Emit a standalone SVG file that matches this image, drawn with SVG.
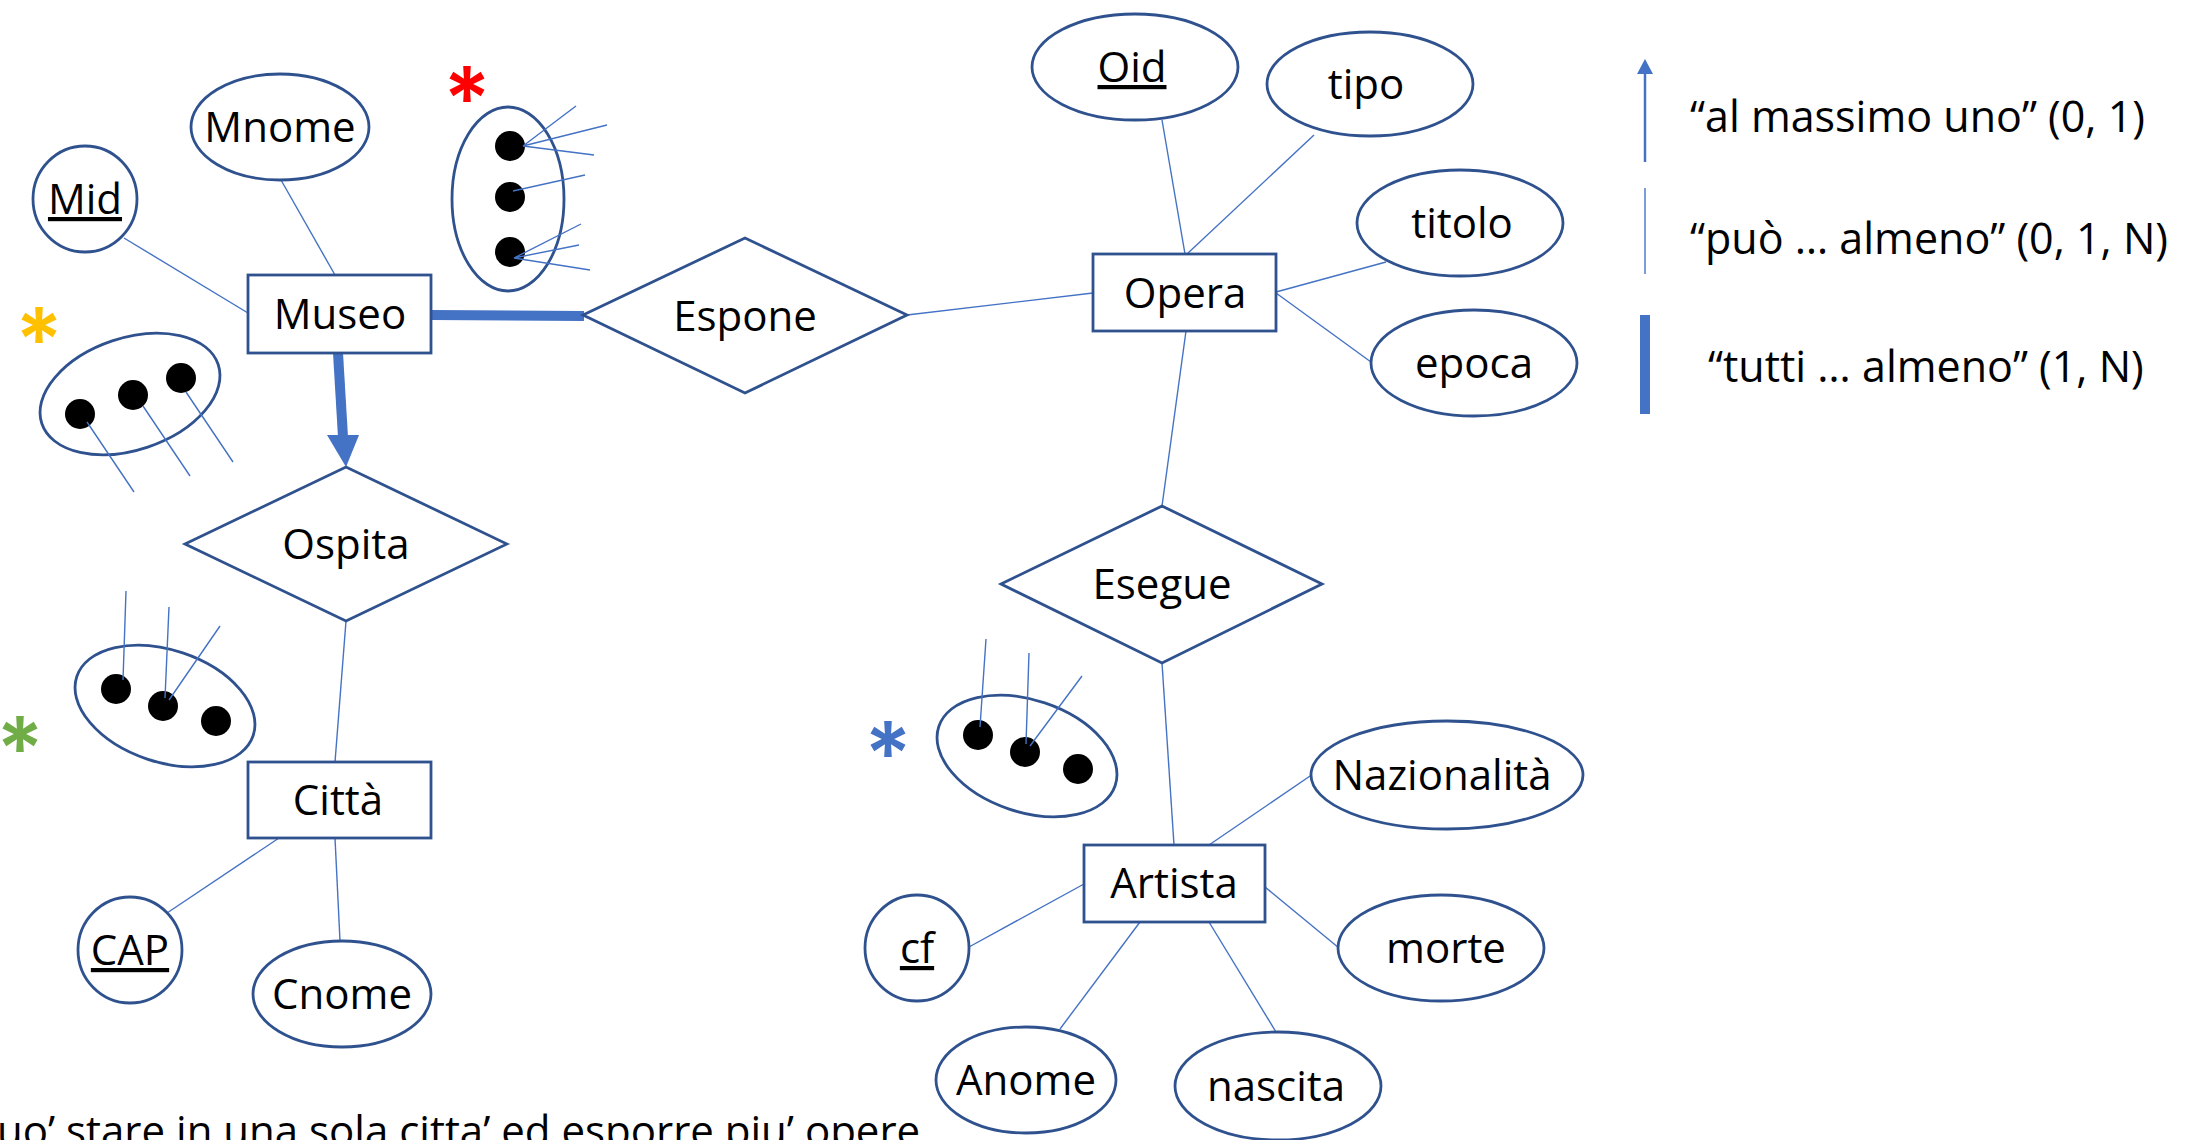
<svg xmlns="http://www.w3.org/2000/svg" width="2187" height="1140" viewBox="0 0 2187 1140">
<style>
.shape{fill:#fff;stroke:#2F528F;stroke-width:2.8}
.lbl{font-family:"Open Sans","Liberation Sans",sans-serif;font-size:42px;fill:#000;text-anchor:middle}
.key{text-decoration:underline}
.ln{stroke:#4472C4;stroke-width:1.4;fill:none}
.thick{stroke:#4472C4;stroke-width:10;fill:none}
.dot{fill:#000}
.star{font-family:Inter,"Open Sans",sans-serif;font-size:88px;font-weight:600;text-anchor:middle}
.leg{font-family:"Open Sans","Liberation Sans",sans-serif;font-size:43px;fill:#000}
</style>
<rect width="2187" height="1140" fill="#fff"/>

<g id="connectors">
<line class="ln" x1="124" y1="238" x2="248" y2="313"/>
<line class="ln" x1="281" y1="180" x2="335" y2="275"/>
<line class="ln" x1="907" y1="315" x2="1093" y2="293"/>
<line class="ln" x1="1162" y1="120" x2="1185" y2="254"/>
<line class="ln" x1="1314" y1="135" x2="1187" y2="254"/>
<line class="ln" x1="1386" y1="262" x2="1276" y2="292"/>
<line class="ln" x1="1371" y1="362" x2="1276" y2="293"/>
<line class="ln" x1="1186" y1="331" x2="1162" y2="506"/>
<line class="ln" x1="1162" y1="663" x2="1174" y2="845"/>
<line class="ln" x1="346" y1="621" x2="335" y2="762"/>
<line class="ln" x1="279" y1="838" x2="167" y2="913"/>
<line class="ln" x1="335" y1="838" x2="340" y2="941"/>
<line class="ln" x1="1209" y1="845" x2="1313" y2="774"/>
<line class="ln" x1="1265" y1="887" x2="1339" y2="948"/>
<line class="ln" x1="1084" y1="884" x2="969" y2="947"/>
<line class="ln" x1="1140" y1="922" x2="1060" y2="1029"/>
<line class="ln" x1="1209" y1="922" x2="1276" y2="1032"/>
<line class="thick" x1="431" y1="315" x2="584" y2="316"/>
<line class="thick" x1="338" y1="353" x2="343" y2="437"/>
<polygon points="327,435 359,435 346,467" fill="#4472C4"/>
</g>

<g id="Museo"><rect class="shape" x="248" y="275" width="183" height="78"/><text class="lbl" x="340" y="329">Museo</text></g>
<g id="Espone"><polygon class="shape" points="583,315 745,238 907,315 745,393"/><text class="lbl" x="745" y="331">Espone</text></g>
<g id="Ospita"><polygon class="shape" points="185,544 346,467 507,544 346,621"/><text class="lbl" x="346" y="559">Ospita</text></g>
<g id="Opera"><rect class="shape" x="1093" y="254" width="183" height="77"/><text class="lbl" x="1185" y="308">Opera</text></g>
<g id="Esegue"><polygon class="shape" points="1001,584 1162,506 1322,584 1162,663"/><text class="lbl" x="1162" y="599">Esegue</text></g>
<g id="Citta"><rect class="shape" x="248" y="762" width="183" height="76"/><text class="lbl" x="338" y="815">Città</text></g>
<g id="Artista"><rect class="shape" x="1084" y="845" width="181" height="77"/><text class="lbl" x="1174" y="898">Artista</text></g>

<g id="Mid"><ellipse class="shape" cx="85" cy="199" rx="52" ry="53"/><text class="lbl key" x="85" y="214">Mid</text></g>
<g id="Mnome"><ellipse class="shape" cx="280" cy="127" rx="89" ry="53"/><text class="lbl" x="280" y="142">Mnome</text></g>
<g id="Oid"><ellipse class="shape" cx="1135" cy="67" rx="103" ry="53"/><text class="lbl key" x="1132" y="82">Oid</text></g>
<g id="tipo"><ellipse class="shape" cx="1370" cy="84" rx="103" ry="52"/><text class="lbl" x="1366" y="99">tipo</text></g>
<g id="titolo"><ellipse class="shape" cx="1460" cy="223" rx="103" ry="53"/><text class="lbl" x="1462" y="238">titolo</text></g>
<g id="epoca"><ellipse class="shape" cx="1474" cy="363" rx="103" ry="53"/><text class="lbl" x="1474" y="378">epoca</text></g>
<g id="Nazionalita"><ellipse class="shape" cx="1447" cy="775" rx="136" ry="54"/><text class="lbl" x="1442" y="790">Nazionalità</text></g>
<g id="morte"><ellipse class="shape" cx="1441" cy="948" rx="103" ry="53"/><text class="lbl" x="1446" y="963">morte</text></g>
<g id="cf"><ellipse class="shape" cx="917" cy="948" rx="52" ry="53"/><text class="lbl key" x="917" y="963">cf</text></g>
<g id="Anome"><ellipse class="shape" cx="1026" cy="1080" rx="90" ry="53"/><text class="lbl" x="1026" y="1095">Anome</text></g>
<g id="nascita"><ellipse class="shape" cx="1278" cy="1086" rx="103" ry="54"/><text class="lbl" x="1276" y="1101">nascita</text></g>
<g id="CAP"><ellipse class="shape" cx="130" cy="950" rx="52" ry="53"/><text class="lbl key" x="130" y="965">CAP</text></g>
<g id="Cnome"><ellipse class="shape" cx="342" cy="994" rx="89" ry="53"/><text class="lbl" x="342" y="1009">Cnome</text></g>

<g id="red-cluster">
<text class="star" x="467" y="130" fill="#FF0000">*</text>
<ellipse class="shape" cx="508" cy="199" rx="56" ry="92"/>
<circle class="dot" cx="510" cy="146" r="15"/>
<circle class="dot" cx="510" cy="197" r="15"/>
<circle class="dot" cx="510" cy="252" r="15"/>
<path class="ln" d="M523,146 L576,106 M523,146 L607,125 M523,146 L594,155 M513,191 L585,175 M514,258 L581,224 M514,258 L579,245 M514,258 L590,270"/>
</g>

<g id="yellow-cluster">
<text class="star" x="39" y="371" fill="#FFC000">*</text>
<ellipse class="shape" cx="130" cy="394" rx="93" ry="56" transform="rotate(-18.5 130 394)"/>
<circle class="dot" cx="80" cy="414" r="15"/>
<circle class="dot" cx="133" cy="395" r="15"/>
<circle class="dot" cx="181" cy="378" r="15"/>
<path class="ln" d="M87,422 L134,492 M143,406 L190,476 M186,392 L233,462"/>
</g>

<g id="green-cluster">
<text class="star" x="20" y="780" fill="#70AD47">*</text>
<ellipse class="shape" cx="165" cy="706" rx="93" ry="56" transform="rotate(18.5 165 706)"/>
<circle class="dot" cx="116" cy="689" r="15"/>
<circle class="dot" cx="163" cy="706" r="15"/>
<circle class="dot" cx="216" cy="721" r="15"/>
<path class="ln" d="M123,680 L126,591 M165,698 L169,607 M169,700 L220,626"/>
</g>

<g id="blue-cluster">
<text class="star" x="888" y="785" fill="#4472C4">*</text>
<ellipse class="shape" cx="1027" cy="756" rx="93" ry="56" transform="rotate(18.5 1027 756)"/>
<circle class="dot" cx="978" cy="735" r="15"/>
<circle class="dot" cx="1025" cy="752" r="15"/>
<circle class="dot" cx="1078" cy="769" r="15"/>
<path class="ln" d="M980,727 L986,639 M1026,744 L1029,653 M1030,746 L1082,676"/>
</g>

<g id="legend">
<line x1="1645" y1="162" x2="1645" y2="70" stroke="#4472C4" stroke-width="2.5"/>
<polygon points="1637,74 1653,74 1645,59" fill="#4472C4"/>
<line x1="1645" y1="188" x2="1645" y2="274" stroke="#4472C4" stroke-width="1.4"/>
<rect x="1640" y="315" width="10" height="99" fill="#4472C4"/>
<text class="leg" x="1690" y="132">“al massimo uno” (0, 1)</text>
<text class="leg" x="1690" y="254">“può … almeno” (0, 1, N)</text>
<text class="leg" x="1708" y="382">“tutti … almeno” (1, N)</text>
</g>

<text class="leg" x="-3" y="1146" style="font-size:42px">uo’ stare in una sola citta’ ed esporre piu’ opere</text>
</svg>
